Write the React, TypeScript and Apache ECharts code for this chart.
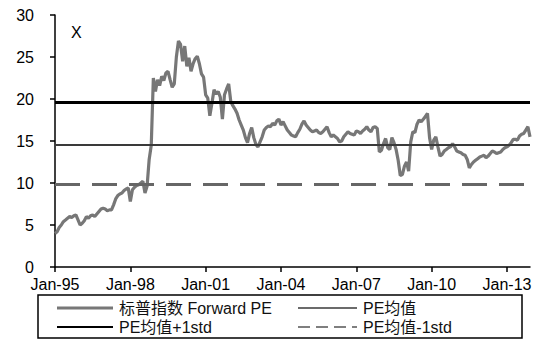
import React, { useEffect, useRef } from 'react';
import * as echarts from 'echarts';

const MONTHS = ['Jan', 'Feb', 'Mar', 'Apr', 'May', 'Jun', 'Jul', 'Aug', 'Sep', 'Oct', 'Nov', 'Dec'];
const YEARS = [1995, 1996, 1997, 1998, 1999, 2000, 2001, 2002, 2003, 2004, 2005, 2006, 2007, 2008, 2009, 2010, 2011, 2012, 2013];
const categories: string[] = [];
YEARS.forEach((y) => MONTHS.forEach((m) => categories.push(`${m}-${String(y % 100).padStart(2, '0')}`)));

// S&P 500 forward PE, monthly, Jan-95 .. Dec-13
const forwardPE = [
  4.0, 4.2, 4.7, 5.0, 5.4, 5.6, 5.8, 6.0, 5.9, 6.1, 6.2, 5.6,
  5.0, 5.2, 5.5, 6.0, 5.8, 6.1, 6.2, 6.0, 6.3, 6.6, 6.9, 7.0,
  6.9, 6.7, 6.8, 6.8, 7.4, 8.1, 8.5, 8.7, 8.8, 9.1, 9.3, 9.4,
  7.8, 9.2, 9.5, 9.7, 9.8, 10.0, 10.2, 8.8, 9.6, 12.8, 14.5, 22.5,
  20.9, 22.3, 21.6, 22.7, 22.2, 23.1, 23.3, 22.3, 21.4, 21.8, 25.0, 26.9,
  26.5, 24.5, 26.3, 23.9, 24.9, 23.3, 24.2, 24.8, 25.1, 24.2, 23.0, 22.6,
  20.5, 20.1, 18.0, 19.5, 21.1, 20.6, 20.9, 20.2, 17.6, 20.5, 21.2, 21.8,
  19.7, 19.2, 18.8, 18.3, 17.5, 16.9, 16.3, 15.4, 14.8, 15.9, 16.6, 15.4,
  14.6, 14.3, 14.9, 15.5, 16.3, 16.6, 16.8, 16.7, 17.1, 16.9, 17.4, 17.6,
  16.9, 17.3, 16.8, 16.3, 16.0, 15.7, 15.6, 15.5, 16.0, 16.4, 17.0, 17.4,
  16.9, 16.6, 16.3, 16.1, 16.2, 16.3, 16.0, 15.9, 16.1, 16.4, 16.7, 16.0,
  15.5, 15.7, 15.5, 15.3, 14.9, 15.0, 15.5, 15.8, 16.1, 15.9, 15.8, 15.7,
  16.2, 16.1, 15.9, 16.2, 16.4, 16.7, 16.3, 16.1, 16.6, 16.7, 16.5, 13.7,
  13.9, 14.7, 15.3, 14.2, 14.0, 15.4, 14.8, 14.0, 12.7, 10.9, 11.0, 12.0,
  12.5, 11.4, 14.9, 16.1, 16.0, 17.0, 17.5, 17.3, 17.6, 17.9, 18.3, 15.4,
  14.0, 15.1, 15.5, 14.3, 13.2, 13.4, 13.8, 14.0, 14.2, 14.3, 14.7, 14.3,
  13.8, 13.7, 13.6, 13.4, 13.3, 12.8, 11.8, 12.2, 12.5, 12.7, 12.9, 13.1,
  13.2, 13.3, 13.0, 13.2, 13.5, 13.8, 13.7, 13.5, 13.6, 13.7, 14.0, 14.2,
  14.3, 14.5, 14.8, 15.2, 15.2, 15.1, 15.6, 15.8, 15.9, 16.3, 16.7, 15.5,
];

const PE_MEAN = 14.6;
const PE_PLUS_1STD = 19.6;
const PE_MINUS_1STD = 9.8;

const SERIES_NAMES = ['标普指数 Forward PE', 'PE均值', 'PE均值+1std', 'PE均值-1std'];
const Y_MIN = 0;
const Y_MAX = 30;
const Y_INTERVAL = 5;

const FONT = '"Liberation Sans", Arial, "Noto Sans CJK SC", sans-serif';
const GRAY = '#777777';

export default function App() {
  const ref = useRef<HTMLDivElement>(null);
  useEffect(() => {
    if (!ref.current) return;
    const chart = echarts.init(ref.current, undefined, { renderer: 'svg' });
    const legendText = (x: number, y: number, text: string) => ({
      type: 'text',
      x,
      y,
      style: { text, font: `16px ${FONT}`, fill: '#111', verticalAlign: 'middle', align: 'left' },
    });
    chart.setOption({
      animation: false,
      backgroundColor: '#fff',
      grid: { left: 55, top: 15, right: 20, bottom: 91, containLabel: false },
      xAxis: {
        type: 'category',
        data: categories,
        boundaryGap: false,
        axisLine: { lineStyle: { color: '#000', width: 1.5 } },
        axisTick: { show: true, interval: 35, length: 5, lineStyle: { color: '#000', width: 1.5 } },
        axisLabel: { interval: 35, color: '#000', fontSize: 16, fontFamily: FONT, margin: 9 },
        splitLine: { show: false },
      },
      yAxis: {
        type: 'value',
        min: Y_MIN,
        max: Y_MAX,
        interval: Y_INTERVAL,
        axisLine: { show: true, lineStyle: { color: '#000', width: 1.5 } },
        axisTick: { show: true, inside: false, length: 5, lineStyle: { color: '#000', width: 1.5 } },
        axisLabel: { color: '#000', fontSize: 16, fontFamily: FONT, margin: 21 },
        splitLine: { show: false },
      },
      series: [
        {
          name: SERIES_NAMES[0],
          type: 'line',
          data: forwardPE,
          symbol: 'none',
          lineStyle: { color: GRAY, width: 3.2 },
          markLine: {
            silent: true,
            symbol: 'none',
            label: { show: false },
            data: [
              { name: SERIES_NAMES[1], yAxis: PE_MEAN, lineStyle: { color: '#3a3a3a', width: 2.2, type: 'solid' } },
              { name: SERIES_NAMES[2], yAxis: PE_PLUS_1STD, lineStyle: { color: '#000', width: 3.2, type: 'solid' } },
              { name: SERIES_NAMES[3], yAxis: PE_MINUS_1STD, lineStyle: { color: '#666', width: 3, type: [25, 12] } },
            ],
          },
        },
      ],
      graphic: [
        { type: 'text', x: 71, y: 32, style: { text: 'X', font: `16px ${FONT}`, fill: '#000', verticalAlign: 'middle' } },
        { type: 'rect', shape: { x: 38, y: 295, width: 484, height: 43 }, style: { fill: '#fff', stroke: '#000', lineWidth: 1.5 } },
        { type: 'line', shape: { x1: 57, y1: 308, x2: 113, y2: 308 }, style: { stroke: GRAY, lineWidth: 3 } },
        legendText(119, 308, SERIES_NAMES[0]),
        { type: 'line', shape: { x1: 298, y1: 308, x2: 357, y2: 308 }, style: { stroke: '#3a3a3a', lineWidth: 1.5 } },
        legendText(363, 308, SERIES_NAMES[1]),
        { type: 'line', shape: { x1: 57, y1: 327, x2: 113, y2: 327 }, style: { stroke: '#000', lineWidth: 1.8 } },
        legendText(119, 327, SERIES_NAMES[2]),
        { type: 'line', shape: { x1: 298, y1: 327, x2: 357, y2: 327 }, style: { stroke: '#555', lineWidth: 1.5, lineDash: [12, 6] } },
        legendText(363, 327, SERIES_NAMES[3]),
      ],
    });
    return () => chart.dispose();
  }, []);
  return <div ref={ref} style={{ position: 'fixed', left: 0, top: 0, width: 550, height: 358 }} />;
}
